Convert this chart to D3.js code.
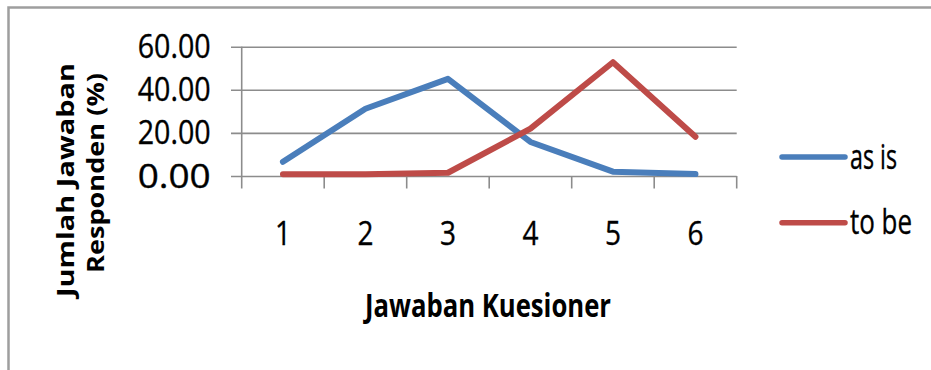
<!DOCTYPE html>
<html>
<head>
<meta charset="utf-8">
<script src="https://cdn.jsdelivr.net/npm/d3@7"></script>
<style>
  html, body { margin: 0; padding: 0; background: #fff; }
  svg { display: block; }
  text { font-family: "Open Sans", "Noto Sans", sans-serif; fill: #000; }
  text.reg { stroke: #000; stroke-width: 0.35px; }
</style>
</head>
<body>
<svg id="chart" width="931" height="370"></svg>
<script>
// Answer categories on the questionnaire scale
const categories = ["1", "2", "3", "4", "5", "6"];
// Share of respondents (%) per answer, current state
const asIs = [6.6, 31.2, 45.1, 15.8, 2.0, 0.9];
// Share of respondents (%) per answer, desired state
const toBe = [0.8, 0.8, 1.5, 22.0, 52.8, 18.2];
// Value axis ticks
const yTicks = [0, 20, 40, 60];

const seriesNames = ["as is", "to be"];
const seriesColors = ["#4A7EBB", "#BE4B48"];

const svg = d3.select("#chart");

// Outer frame
svg.append("rect")
  .attr("x", 8.5).attr("y", 7.5)
  .attr("width", 960).attr("height", 400)
  .attr("fill", "#fff")
  .attr("stroke", "#9e9e9e").attr("stroke-width", 2.5);

const plot = { left: 241.7, right: 736.7, top: 46.7, bottom: 176 };

const x = d3.scaleBand().domain(categories).range([plot.left, plot.right]).padding(0);
const y = d3.scaleLinear().domain([0, 60]).range([plot.bottom, plot.top]);
const cx = c => x(c) + x.bandwidth() / 2;

// Horizontal gridlines with short outer ticks on the left
const yAxis = d3.axisLeft(y)
  .tickValues(yTicks)
  .tickSize(-(plot.right - plot.left))
  .tickSizeOuter(0)
  .tickFormat("");
const gy = svg.append("g").attr("transform", `translate(${plot.left},0)`).call(yAxis);
gy.select(".domain").remove();
gy.selectAll(".tick line")
  .attr("x1", -10.7)
  .attr("stroke", "#8c8c8c").attr("stroke-width", 1.6);

// Y tick labels
svg.append("g").selectAll("text")
  .data(yTicks)
  .join("text")
  .attr("class", "reg")
  .attr("x", 210.7)
  .attr("y", d => y(d) + 11.5)
  .attr("text-anchor", "end")
  .attr("font-size", 32)
  .attr("textLength", 73)
  .attr("lengthAdjust", "spacingAndGlyphs")
  .text(d => d3.format(".2f")(d));

// Vertical value axis line
svg.append("line")
  .attr("x1", plot.left).attr("x2", plot.left)
  .attr("y1", y(60)).attr("y2", plot.bottom)
  .attr("stroke", "#8c8c8c").attr("stroke-width", 1.6);

// Category tick marks at band boundaries
const bounds = categories.map(c => x(c)).concat([plot.right]);
svg.append("g").selectAll("line")
  .data(bounds)
  .join("line")
  .attr("x1", d => d).attr("x2", d => d)
  .attr("y1", plot.bottom).attr("y2", plot.bottom + 12.5)
  .attr("stroke", "#8c8c8c").attr("stroke-width", 1.6);

// Category labels
const xAxis = d3.axisBottom(x).tickSize(0).tickPadding(0);
const gx = svg.append("g").attr("transform", `translate(0,${plot.bottom})`).call(xAxis);
gx.select(".domain").remove();
gx.selectAll(".tick text")
  .attr("class", "reg")
  .attr("y", 69)
  .attr("dy", null)
  .attr("font-size", 33)
  .attr("font-family", "Open Sans")
  .attr("fill", "#000")
  .attr("textLength", 16)
  .attr("lengthAdjust", "spacingAndGlyphs");

// Series lines
const line = d3.line()
  .x((d, i) => cx(categories[i]))
  .y(d => y(d));

[asIs, toBe].forEach((vals, k) => {
  svg.append("path")
    .datum(vals)
    .attr("d", line)
    .attr("fill", "none")
    .attr("stroke", seriesColors[k])
    .attr("stroke-width", 6)
    .attr("stroke-linejoin", "round")
    .attr("stroke-linecap", "round");
});

// Legend
const legendY = [157, 222.7];
const legendW = [47, 62];
const lg = svg.append("g");
seriesNames.forEach((name, k) => {
  lg.append("line")
    .attr("x1", 782).attr("x2", 845)
    .attr("y1", legendY[k]).attr("y2", legendY[k])
    .attr("stroke", seriesColors[k]).attr("stroke-width", 5.5)
    .attr("stroke-linecap", "round");
  lg.append("text")
    .attr("class", "reg")
    .attr("x", 850)
    .attr("y", legendY[k] + 11.5)
    .attr("font-size", 34)
    .attr("textLength", legendW[k])
    .attr("lengthAdjust", "spacingAndGlyphs")
    .text(name);
});

// Axis titles
svg.append("text")
  .attr("x", 365).attr("y", 316.7)
  .attr("font-size", 32.5)
  .attr("font-weight", "bold")
  .attr("textLength", 246)
  .attr("lengthAdjust", "spacingAndGlyphs")
  .text("Jawaban Kuesioner");

const yTitle = [
  { text: "Jumlah Jawaban", base: 74, center: 180, len: 234 },
  { text: "Responden (%)", base: 103.5, center: 173, len: 200 }
];
yTitle.forEach(t => {
  svg.append("text")
    .attr("transform", `translate(${t.base},${t.center}) rotate(-90)`)
    .attr("text-anchor", "middle")
    .attr("font-size", 24)
    .attr("font-weight", "bold")
    .attr("textLength", t.len)
    .attr("lengthAdjust", "spacingAndGlyphs")
    .text(t.text);
});
</script>
</body>
</html>
